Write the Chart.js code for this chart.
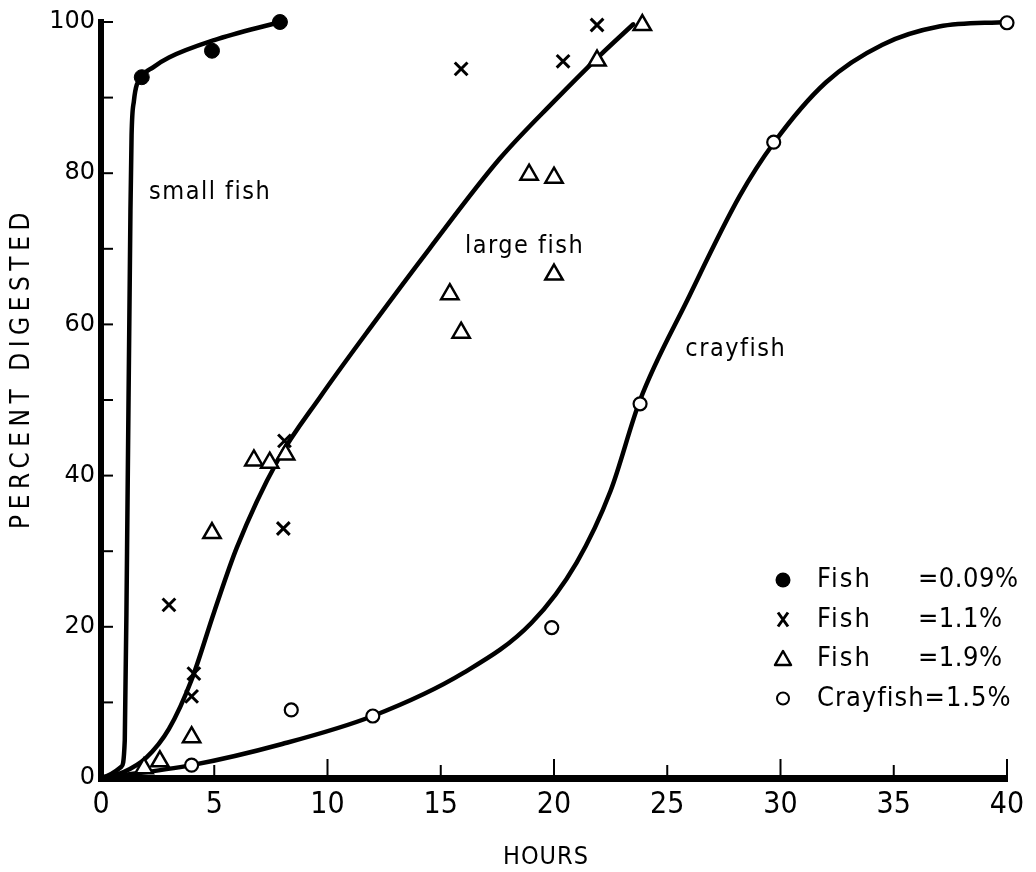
<!DOCTYPE html>
<html>
<head>
<meta charset="utf-8">
<script src="https://cdn.jsdelivr.net/npm/chart.js@4.4.1/dist/chart.umd.min.js"></script>
<style>
html, body { margin: 0; padding: 0; background: #fff; }
#wrap { width: 1036px; height: 872px; }
</style>
</head>
<body>
<div id="wrap"><canvas id="grafico"></canvas></div>
<script>
// observed points (hours, percent digested)
const fish009 = [{x: 1.8, y: 92.7}, {x: 4.9, y: 96.2}, {x: 7.9, y: 100}];
const fish11 = [{x: 3.0, y: 22.9}, {x: 4.1, y: 13.8}, {x: 4.0, y: 10.8}, {x: 8.05, y: 33}, {x: 8.1, y: 44.6},
                {x: 15.9, y: 93.8}, {x: 20.4, y: 94.8}, {x: 21.9, y: 99.6}];
const fish19 = [{x: 1.9, y: 1.3}, {x: 2.6, y: 2.2}, {x: 4.0, y: 5.4}, {x: 4.9, y: 32.4}, {x: 6.75, y: 42},
                {x: 7.45, y: 41.7}, {x: 8.15, y: 42.8}, {x: 15.4, y: 64}, {x: 15.9, y: 58.9}, {x: 18.9, y: 79.8},
                {x: 20.0, y: 79.4}, {x: 20.0, y: 66.6}, {x: 21.9, y: 94.9}, {x: 23.9, y: 99.6}];
const crayfish15 = [{x: 4.0, y: 1.7}, {x: 8.4, y: 9}, {x: 12.0, y: 8.2}, {x: 19.9, y: 19.9}, {x: 23.8, y: 49.5},
                    {x: 29.7, y: 84.1}, {x: 40, y: 99.9}];

// hand-drawn curves
const smallFishCurve = [{x: 0, y: 0}, {x: 0.9, y: 1.5}, {x: 1.05, y: 5}, {x: 1.15, y: 30}, {x: 1.3, y: 75},
                        {x: 1.35, y: 85}, {x: 1.45, y: 89.5}, {x: 1.8, y: 92.7}, {x: 2.3, y: 94}, {x: 3, y: 95.3},
                        {x: 5, y: 97.6}, {x: 7.9, y: 100}];
const largeFishCurve = [{x: 0, y: 0}, {x: 1, y: 0.8}, {x: 2, y: 2.7}, {x: 3, y: 6.5}, {x: 4, y: 13},
                        {x: 5, y: 22}, {x: 6, y: 30.5}, {x: 7.8, y: 42}, {x: 9.7, y: 50.5}, {x: 12, y: 60},
                        {x: 14.5, y: 70}, {x: 17.6, y: 81.9}, {x: 20, y: 89.5}, {x: 22, y: 95.5}, {x: 23.5, y: 99.7}];
const crayfishCurve = [{x: 0, y: 0}, {x: 4, y: 1.7}, {x: 8, y: 4.5}, {x: 12, y: 8.2}, {x: 16, y: 13.9},
                       {x: 19, y: 20.5}, {x: 21, y: 28.5}, {x: 22.5, y: 38}, {x: 23.8, y: 50}, {x: 25.9, y: 63.3},
                       {x: 28.2, y: 77}, {x: 29.7, y: 84}, {x: 32, y: 92}, {x: 34.5, y: 97}, {x: 37, y: 99.4},
                       {x: 40, y: 100}];

const xTicks = [0, 5, 10, 15, 20, 25, 30, 35, 40];
const yTicks = [0, 10, 20, 30, 40, 50, 60, 70, 80, 90, 100];
const yTickLabels = [0, 20, 40, 60, 80, 100];

const curveNames = ['small fish', 'large fish', 'crayfish'];
const legendNames = ['Fish', 'Fish', 'Fish', 'Crayfish'];
const legendValues = ['=0.09%', '=1.1%', '=1.9%', '=1.5%'];

const narrow = "'Liberation Sans Narrow', 'DejaVu Sans Condensed', sans-serif";

// where the curve names sit (data coords)
const namePos = [{x: 2.12, y: 77.5}, {x: 16.07, y: 70.3}, {x: 25.8, y: 56.7}];

function drawMarker(ctx, style, cx, cy) {
    ctx.save();
    ctx.strokeStyle = '#000';
    ctx.lineWidth = 2.5;
    ctx.beginPath();
    if (style === 'dot') {
        ctx.arc(cx, cy, 7.5, 0, Math.PI * 2);
        ctx.fillStyle = '#000';
        ctx.fill();
    } else if (style === 'cross') {
        ctx.lineWidth = 3;
        ctx.moveTo(cx - 5, cy - 7); ctx.lineTo(cx + 5, cy + 7);
        ctx.moveTo(cx + 5, cy - 7); ctx.lineTo(cx - 5, cy + 7);
        ctx.stroke();
    } else if (style === 'tri') {
        ctx.moveTo(cx, cy - 8); ctx.lineTo(cx + 8, cy + 6); ctx.lineTo(cx - 8, cy + 6); ctx.closePath();
        ctx.lineJoin = 'round';
        ctx.stroke();
    } else {
        ctx.lineWidth = 2;
        ctx.arc(cx, cy, 6, 0, Math.PI * 2);
        ctx.stroke();
    }
    ctx.restore();
}

const extras = {
    id: 'extras',
    afterDraw(chart) {
        const {ctx, chartArea} = chart;
        const x = chart.scales.x, y = chart.scales.y;
        ctx.save();
        // inward tick marks
        ctx.strokeStyle = '#000';
        ctx.lineWidth = 2;
        xTicks.forEach(v => {
            if (v === 0) return;
            const px = x.getPixelForValue(v);
            const len = v % 10 === 0 ? 19 : 13;
            ctx.beginPath();
            ctx.moveTo(px, chartArea.bottom);
            ctx.lineTo(px, chartArea.bottom - len);
            ctx.stroke();
        });
        yTicks.forEach(v => {
            if (v === 0) return;
            const py = y.getPixelForValue(v);
            ctx.beginPath();
            ctx.moveTo(chartArea.left, py);
            ctx.lineTo(chartArea.left + 12, py);
            ctx.stroke();
        });

        // curve names
        ctx.fillStyle = '#000';
        ctx.font = '25px ' + narrow;
        ctx.letterSpacing = '1.5px';
        ctx.textBaseline = 'middle';
        ctx.textAlign = 'left';
        curveNames.forEach((t, i) => {
            ctx.fillText(t, x.getPixelForValue(namePos[i].x), y.getPixelForValue(namePos[i].y));
        });

        // legend
        const styles = ['dot', 'cross', 'tri', 'ring'];
        ctx.font = '27px ' + narrow;
        legendNames.forEach((t, i) => {
            const ly = 580 + i * 39.5;
            drawMarker(ctx, styles[i], 783, ly);
            if (t === 'Crayfish') {
                ctx.letterSpacing = '1px';
                ctx.fillText(t + legendValues[i], 817, ly);
            } else {
                ctx.letterSpacing = '2px';
                ctx.fillText(t, 817, ly);
                ctx.letterSpacing = '0.5px';
                ctx.fillText(legendValues[i], 918, ly);
            }
        });

        // axis titles
        ctx.font = '25px ' + narrow;
        ctx.letterSpacing = '1px';
        ctx.textAlign = 'center';
        ctx.fillText('HOURS', 546, 857);
        ctx.translate(22, 368);
        ctx.rotate(-Math.PI / 2);
        ctx.font = '26px ' + narrow;
        ctx.letterSpacing = '5.5px';
        ctx.fillText('PERCENT DIGESTED', 0, 0);
        ctx.restore();
    }
};

const markerBase = {showLine: false, borderColor: '#000', clip: false};
const curveBase = {showLine: true, borderColor: '#000', borderWidth: 4.5, pointRadius: 0,
                   cubicInterpolationMode: 'monotone', clip: false, borderCapStyle: 'round'};

new Chart(document.getElementById('grafico').getContext('2d'), {
    type: 'scatter',
    data: {
        datasets: [
            {...markerBase, label: 'Fish =0.09%', data: fish009, pointStyle: 'circle', pointRadius: 7.5,
             backgroundColor: '#000', borderWidth: 1},
            {...markerBase, label: 'Fish =1.1%', data: fish11, pointStyle: 'crossRot', pointRadius: 9,
             borderWidth: 3},
            {...markerBase, label: 'Fish =1.9%', data: fish19, pointStyle: 'triangle', pointRadius: 10,
             backgroundColor: '#fff', borderWidth: 2.5},
            {...markerBase, label: 'Crayfish =1.5%', data: crayfish15, pointStyle: 'circle', pointRadius: 6.5,
             backgroundColor: '#fff', borderWidth: 2.2},
            {...curveBase, label: 'small fish', data: smallFishCurve},
            {...curveBase, label: 'large fish', data: largeFishCurve},
            {...curveBase, label: 'crayfish', data: crayfishCurve}
        ]
    },
    options: {
        responsive: true,
        maintainAspectRatio: false,
        animation: false,
        layout: {padding: {left: 0, right: 29, top: 22, bottom: 0}},
        plugins: {
            legend: {display: false},
            tooltip: {enabled: false}
        },
        scales: {
            x: {
                type: 'linear',
                min: 0, max: 40,
                afterFit: s => { s.height = 94; },
                grid: {display: false, drawTicks: false},
                border: {display: true, color: '#000', width: 7},
                ticks: {stepSize: 5, padding: 9, color: '#000', font: {family: narrow, size: 30}}
            },
            y: {
                min: 0, max: 100,
                afterFit: s => { s.width = 101; },
                grid: {display: false, drawTicks: false},
                border: {display: true, color: '#000', width: 6},
                ticks: {
                    stepSize: 10, padding: 6, color: '#000',
                    font: {family: 'DejaVu Sans', size: 24},
                    callback: v => yTickLabels.includes(v) ? v : ''
                }
            }
        }
    },
    plugins: [extras]
});
</script>
</body>
</html>
